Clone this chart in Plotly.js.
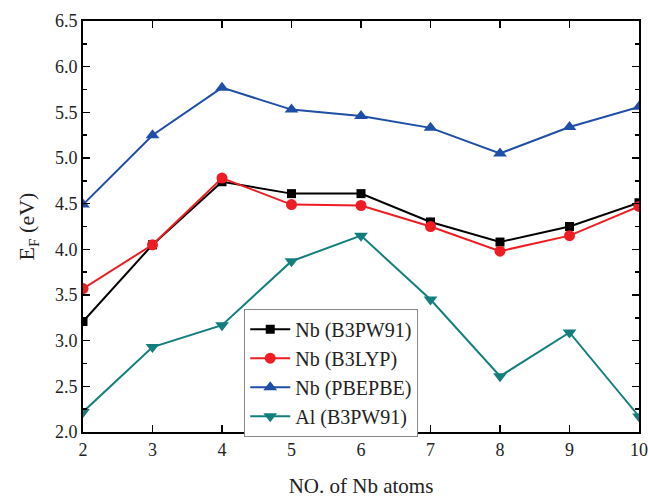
<!DOCTYPE html>
<html>
<head>
<meta charset="utf-8">
<script src="https://cdn.plot.ly/plotly-3.0.1.min.js"></script>
<style>html,body{margin:0;padding:0;background:#fff;}#chart{width:648px;height:501px;}</style>
</head>
<body>
<div id="chart"></div>
<script>
const atoms = [2, 3, 4, 5, 6, 7, 8, 9, 10];
const nbB3PW91 = [3.21, 4.05, 4.74, 4.61, 4.61, 4.30, 4.08, 4.25, 4.51];
const nbB3LYP  = [3.57, 4.05, 4.78, 4.49, 4.48, 4.25, 3.98, 4.15, 4.47];
const nbPBEPBE = [4.49, 5.25, 5.77, 5.53, 5.46, 5.33, 5.05, 5.34, 5.56];
const alB3PW91 = [2.22, 2.93, 3.17, 3.87, 4.15, 3.45, 2.61, 3.09, 2.17];
const seriesNames = ['Nb (B3PW91)', 'Nb (B3LYP)', 'Nb (PBEPBE)', 'Al (B3PW91)'];
const yTicks = [2.0, 2.5, 3.0, 3.5, 4.0, 4.5, 5.0, 5.5, 6.0, 6.5];

const mk = (y, name, color, symbol, size) => ({
  x: atoms, y: y, name: name, type: 'scatter', mode: 'lines+markers',
  line: {color: color, width: 2},
  marker: {color: color, symbol: symbol, size: size}
});

const data = [
  mk(nbB3PW91, seriesNames[0], '#000000', 'square', 9),
  mk(nbB3LYP, seriesNames[1], '#ee1d24', 'circle', 11),
  mk(nbPBEPBE, seriesNames[2], '#1f4ea6', 'triangle-up', 12),
  mk(alB3PW91, seriesNames[3], '#137f7c', 'triangle-down', 12)
];

const font = 'Liberation Serif';
const layout = {
  width: 648, height: 501,
  margin: {l: 83, r: 9, t: 21, b: 69},
  paper_bgcolor: '#fff', plot_bgcolor: '#fff',
  font: {family: font, color: '#222', size: 17},
  showlegend: true,
  legend: {
    x: 0.29, y: 0.30, xanchor: 'left', yanchor: 'top',
    bgcolor: '#fff', bordercolor: '#888', borderwidth: 1,
    font: {family: font, size: 20, color: '#222'},
    itemwidth: 40
  },
  xaxis: {
    range: [2, 10], tickvals: atoms, ticktext: atoms.map(String),
    showgrid: false, zeroline: false,
    showline: true, linecolor: '#000', linewidth: 2, mirror: 'ticks',
    ticks: 'inside', ticklen: 7, tickwidth: 1.5, tickcolor: '#000',
    tickfont: {family: font, size: 18, color: '#222'},
    title: {text: 'NO. of Nb atoms', font: {family: font, size: 21, color: '#222'}, standoff: 20}
  },
  yaxis: {
    range: [2.0, 6.5], tickvals: yTicks, ticktext: yTicks.map(v => v.toFixed(1)),
    showgrid: false, zeroline: false,
    showline: true, linecolor: '#000', linewidth: 2, mirror: 'ticks',
    ticks: 'inside', ticklen: 7, tickwidth: 1.5, tickcolor: '#000',
    minor: {dtick: 0.25, tick0: 2, ticks: 'inside', ticklen: 4, tickwidth: 1.5, tickcolor: '#000', showgrid: false},
    tickfont: {family: font, size: 18, color: '#222'},
    title: {text: 'E<sub>F</sub> (eV)', font: {family: font, size: 22, color: '#222'}, standoff: 14}
  }
};

Plotly.newPlot('chart', data, layout, {displayModeBar: false, staticPlot: true});
</script>
</body>
</html>
